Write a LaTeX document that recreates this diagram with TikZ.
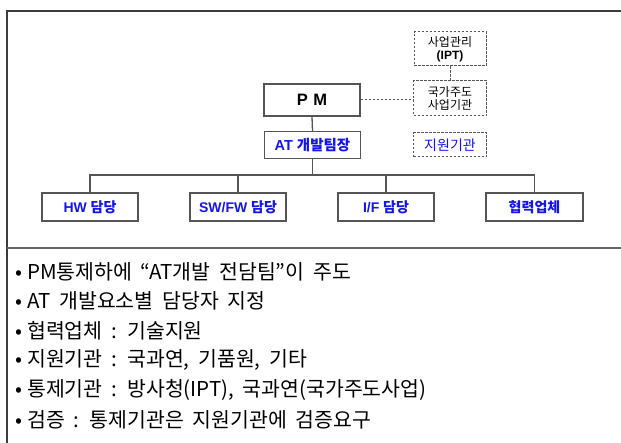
\documentclass[tikz,border=0pt]{standalone}
\usepackage{fontspec}
\setmainfont{Liberation Sans}
\newfontfamily\kr{Noto Sans CJK KR}
\newfontfamily\krwide[WordSpace=1.9]{Noto Sans CJK KR}
\newcommand{\bul}{\makebox[12pt][l]{•}}
\definecolor{bluetxt}{RGB}{20,20,235}
\definecolor{frame}{RGB}{60,60,60}
\definecolor{boxline}{RGB}{85,85,85}
\begin{document}
\begin{tikzpicture}[x=1pt,y=-1pt,
  solidbox/.style={draw=boxline,line width=1.4pt,fill=white,inner sep=0pt,align=center},
  dashbox/.style={draw=boxline,line width=1pt,dash pattern=on 2.5pt off 1.5pt,fill=white,inner sep=0pt,align=center},
  conn/.style={draw=boxline,line width=1.3pt},
  dconn/.style={draw=boxline,line width=1pt,dash pattern=on 2.5pt off 1.5pt},
  bullet/.style={anchor=west,inner sep=0pt,font=\krwide\fontsize{20.5}{24}\selectfont}]
\useasboundingbox (0,0) rectangle (621,443);
% frame
\draw[frame,line width=2pt] (7,443) -- (7,11) -- (621,11);
\draw[gray!80!black,line width=2pt] (7,248) -- (621,248);
% nodes
\node[solidbox,minimum width=96pt,minimum height=32pt,font=\fontsize{16.5}{18}\selectfont\bfseries] (pm) at (312,100) {P\,\,M};
\node[solidbox,minimum width=96pt,minimum height=27pt,text=bluetxt,font=\fontsize{14.5}{16}\selectfont\bfseries] (at) at (312.5,145) {AT {\kr 개발팀장}};
\node[dashbox,minimum width=72pt,minimum height=34pt,font=\fontsize{12}{14}\selectfont] (ipt) at (450,49) {{\kr 사업관리}\\[-1pt]{\bfseries(IPT)}};
\node[dashbox,minimum width=73pt,minimum height=35pt,font=\kr\fontsize{12}{14}\selectfont] (nat) at (450,98.5) {국가주도\\[-1pt]사업기관};
\node[dashbox,minimum width=73pt,minimum height=24pt,text=bluetxt,font=\kr\fontsize{14}{15}\selectfont] (sup) at (450,145) {지원기관};
\node[solidbox,minimum width=96pt,minimum height=28pt,text=bluetxt,font=\fontsize{14}{15}\selectfont\bfseries] (hw) at (90,207) {HW {\kr 담당}};
\node[solidbox,minimum width=96pt,minimum height=28pt,text=bluetxt,font=\fontsize{14}{15}\selectfont\bfseries] (sw) at (238,207) {SW/FW {\kr 담당}};
\node[solidbox,minimum width=96pt,minimum height=28pt,text=bluetxt,font=\fontsize{14}{15}\selectfont\bfseries] (if) at (386,207) {I/F {\kr 담당}};
\node[solidbox,minimum width=97pt,minimum height=28pt,text=bluetxt,font=\kr\fontsize{14}{15}\selectfont\bfseries] (co) at (534.5,207) {협력업체};
% connectors
\coordinate (bus) at (312.5,175);
\draw[conn] (pm.south) -- (at.north);
\draw[conn] (at.south) -- (bus);
\draw[conn] (hw.north) |- (bus) -| (co.north);
\draw[conn] (sw.north) -- (sw.north |- bus);
\draw[conn] (if.north) -- (if.north |- bus);
\draw[dconn] (pm.east) -- (pm.east -| nat.west);
\draw[dconn] (ipt.south) -- (nat.north);
% bullets
\node[bullet] (b1) at (15,272) {\bul PM통제하에 “AT개발 전담팀”이 주도};
\node[bullet] (b2) at (15,301) {\bul AT 개발요소별 담당자 지정};
\node[bullet] (b3) at (15,331) {\bul 협력업체 : 기술지원};
\node[bullet] (b4) at (15,360) {\bul 지원기관 : 국과연, 기품원, 기타};
\node[bullet] (b5) at (15,390) {\bul 통제기관 : 방사청(IPT), 국과연(국가주도사업)};
\node[bullet] (b6) at (15,420) {\bul 검증 : 통제기관은 지원기관에 검증요구};
\end{tikzpicture}
\end{document}
